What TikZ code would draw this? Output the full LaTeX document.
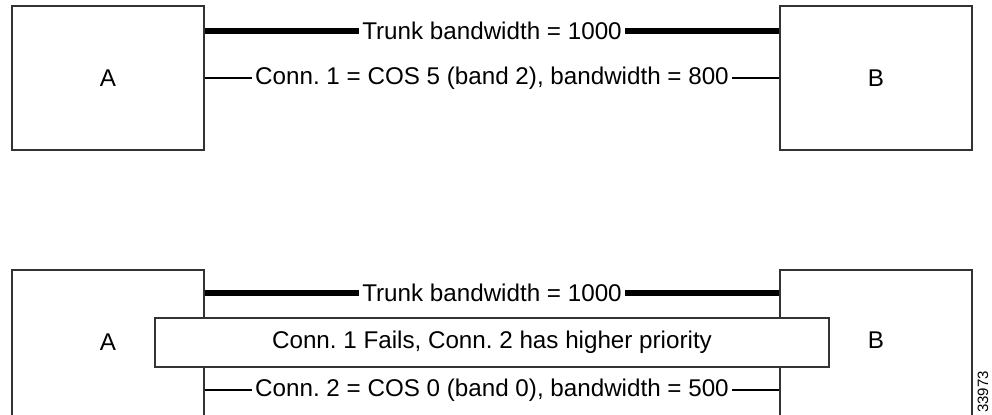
\documentclass[tikz,border=0pt]{standalone}
\usepackage{fontspec}
\setmainfont{Liberation Sans}
\usepackage{tikz}
\frenchspacing
\tikzset{
  box/.style={draw=black!80,line width=0.6pt,fill=white,minimum width=96pt,minimum height=72pt,inner sep=0pt},
  trunk/.style={line width=2.7pt},
  conn/.style={line width=0.6pt},
  lbl/.style={fill=white,inner xsep=1.5pt,inner ysep=0pt,font=\fontsize{12.1}{14}\selectfont},
}

\begin{document}
\begin{tikzpicture}[x=0.5pt,y=0.5pt,font=\fontsize{12.1}{14}\selectfont]
\useasboundingbox (0,0) rectangle (992,414);
% top: normal state
\node[box] (a1) at (108,336) {A};
\node[box] (b1) at (876,336) {B};
\coordinate (t1) at (0,383);
\draw[trunk] (a1.east |- t1) -- (b1.west |- t1) node[midway,lbl] {Trunk bandwidth = 1000};
\draw[conn] (a1.east) -- (b1.west) node[midway,lbl] {Conn. 1 = COS 5 (band 2), bandwidth = 800};
% bottom: conn. 1 fails
\node[box,minimum height=80pt] (a2) at (108,64) {};
\node at (108,72) {A};
\node[box,minimum height=80pt] (b2) at (876,64) {};
\node at (876,74) {B};
\coordinate (t2) at (0,121);
\coordinate (c2) at (0,24);
\draw[trunk] (a2.east |- t2) -- (b2.west |- t2) node[midway,lbl] {Trunk bandwidth = 1000};
\draw[conn] (a2.east |- c2) -- (b2.west |- c2) node[midway,lbl] {Conn. 2 = COS 0 (band 0), bandwidth = 500};
\node[draw=black!80,line width=0.6pt,fill=white,minimum width=674pt*0.5,minimum height=49pt*0.5] (fail) at (492,71.5) {Conn. 1 Fails, Conn. 2 has higher priority};
\node[rotate=90,font=\fontsize{7.5}{9}\selectfont] (num) at (983,22) {33973};
\end{tikzpicture}
\end{document}
